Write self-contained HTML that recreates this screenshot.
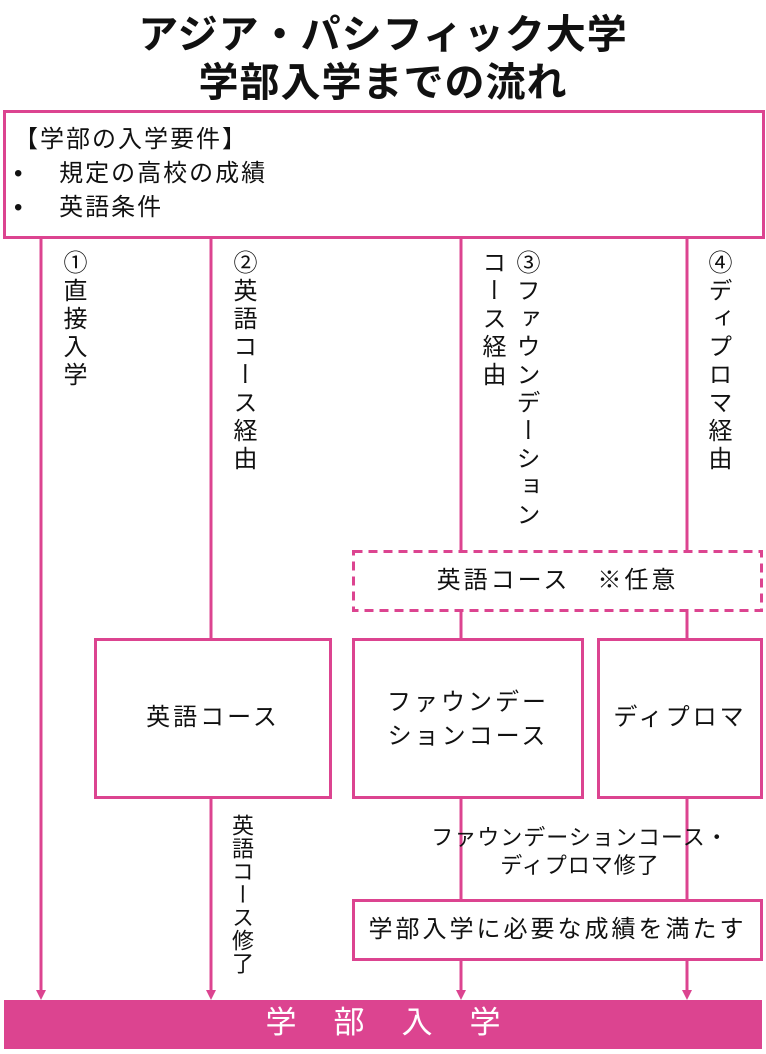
<!DOCTYPE html>
<html><head><meta charset="utf-8"><style>
*{margin:0;padding:0;box-sizing:border-box}
body{width:766px;height:1054px;background:#fff;position:relative;overflow:hidden;font-family:"Liberation Sans","Noto Sans CJK JP",sans-serif;color:#111}
.a{position:absolute}
.t{font-size:24px;letter-spacing:3px;white-space:nowrap;line-height:28px}
.v{writing-mode:vertical-rl;font-size:24px;letter-spacing:4px;line-height:34px;white-space:nowrap}
.h1{font-weight:bold;font-size:40px;left:0;width:766px;text-align:center;letter-spacing:1px}
</style></head><body>
<div class="a h1" style="top:2px">アジア・パシフィック大学</div>
<div class="a h1" style="top:50px">学部入学までの流れ</div>
<svg class="a" style="left:0;top:0" width="766" height="1054">
<g stroke="#DC4490" stroke-width="3" fill="none">
<rect x="4.5" y="111.5" width="759" height="126" fill="#fff"/>
<line x1="41" y1="238" x2="41" y2="992"/>
<line x1="211" y1="238" x2="211" y2="639"/>
<line x1="211" y1="797" x2="211" y2="992"/>
<line x1="461" y1="238" x2="461" y2="551"/>
<line x1="461" y1="611" x2="461" y2="639"/>
<line x1="461" y1="797" x2="461" y2="900"/>
<line x1="461" y1="960" x2="461" y2="992"/>
<line x1="687" y1="238" x2="687" y2="551"/>
<line x1="687" y1="611" x2="687" y2="639"/>
<line x1="687" y1="797" x2="687" y2="900"/>
<line x1="687" y1="960" x2="687" y2="992"/>
<rect x="353.5" y="551.5" width="408" height="59" stroke-dasharray="9,6" fill="#fff"/>
<rect x="95.5" y="639.5" width="235" height="158" fill="#fff"/>
<rect x="353.5" y="639.5" width="229" height="158" fill="#fff"/>
<rect x="598.5" y="639.5" width="163" height="158" fill="#fff"/>
<rect x="353.5" y="900.5" width="408" height="59" fill="#fff"/>
</g>
<g fill="#DC4490">
<path d="M36,990 L46,990 L41,1000Z"/>
<path d="M206,990 L216,990 L211,1000Z"/>
<path d="M456,990 L466,990 L461,1000Z"/>
<path d="M682,990 L692,990 L687,1000Z"/>
</g>
<rect x="4" y="1000" width="758" height="49" fill="#DC4490"/>
</svg>
<div class="a t" style="left:14px;top:126px;letter-spacing:2px">【学部の入学要件】</div>
<div class="a t" style="left:14px;top:160px;letter-spacing:2px">•　 規定の高校の成績</div>
<div class="a t" style="left:14px;top:194px;letter-spacing:2px">•　 英語条件</div>
<div class="a v" style="left:55px;top:250px">①直接入学</div>
<div class="a v" style="left:225px;top:250px">②英語コース経由</div>
<div class="a v" style="left:474px;top:250px">③ファウンデーション<br>コース経由</div>
<div class="a v" style="left:700px;top:250px">④ディプロマ経由</div>
<div class="a t" style="left:353px;top:567px;width:409px;text-align:center">英語コース　※任意</div>
<div class="a t" style="left:95px;top:704px;width:236px;text-align:center">英語コース</div>
<div class="a t" style="left:353px;top:686px;width:230px;text-align:center;line-height:34px">ファウンデー<br>ションコース</div>
<div class="a t" style="left:598px;top:704px;width:164px;text-align:center">ディプロマ</div>
<div class="a v" style="left:224px;top:814px;font-size:22px;letter-spacing:1px">英語コース修了</div>
<div class="a t" style="left:400px;top:824px;width:360px;text-align:center;font-size:22px;letter-spacing:1px">ファウンデーションコース・</div>
<div class="a t" style="left:400px;top:852px;width:360px;text-align:center;font-size:22px;letter-spacing:1px">ディプロマ修了</div>
<div class="a t" style="left:353px;top:916px;width:409px;text-align:center">学部入学に必要な成績を満たす</div>
<div class="a" style="left:4px;top:1005px;width:758px;text-align:center;color:#fff;font-size:31px;letter-spacing:37px;padding-left:37px;line-height:36px">学部入学</div>
</body></html>
